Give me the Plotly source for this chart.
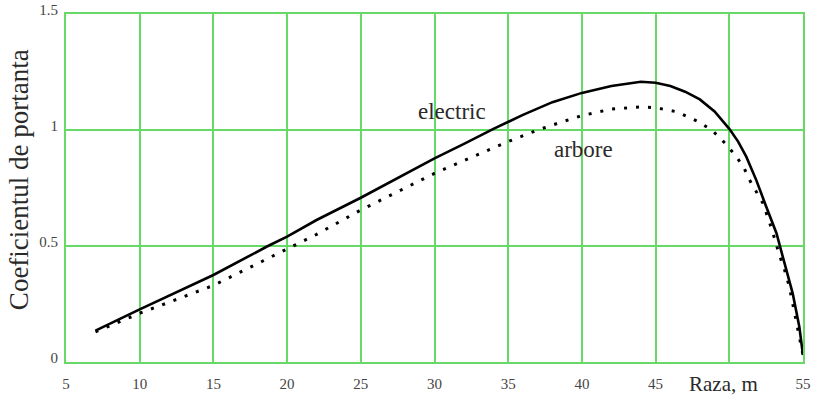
import plotly.graph_objects as go

# electric (solid)
raza_el = [7, 10, 15, 18.7, 20, 22, 25, 30, 32, 34, 36, 38, 40, 42, 44, 45, 46, 47, 48, 49, 50,
           50.6, 51.15, 51.83, 52.5, 53.2, 53.75, 54.3, 54.75, 55]
electric = [0.135, 0.227, 0.375, 0.50, 0.54, 0.612, 0.708, 0.878, 0.94, 1.005, 1.065, 1.12, 1.16, 1.19,
            1.208, 1.204, 1.19, 1.165, 1.132, 1.08, 1.005, 0.95, 0.885, 0.784, 0.67, 0.555, 0.425, 0.296,
            0.152, 0.03]

# arbore (dotted)
raza_ar = [7, 10, 15, 20, 22, 25, 30, 35, 37, 38.5, 40, 42, 44, 45, 46.4, 47.8, 48.7, 49.3, 49.9, 50.47,
           50.97, 51.37, 51.83, 52.28, 52.6, 52.9, 53.4, 53.75, 54.07, 54.4, 54.75, 55]
arbore = [0.13, 0.21, 0.33, 0.487, 0.55, 0.655, 0.813, 0.95, 1.0, 1.032, 1.062, 1.09, 1.10, 1.096, 1.079,
          1.039, 1.004, 0.971, 0.93, 0.885, 0.84, 0.785, 0.734, 0.684, 0.626, 0.569, 0.461, 0.397, 0.325,
          0.224, 0.109, 0.03]

x_ticks = [5, 10, 15, 20, 25, 30, 35, 40, 45, 50, 55]
x_ticktext = ["5", "10", "15", "20", "25", "30", "35", "40", "45", "", "55"]
y_ticks = [0, 0.5, 1, 1.5]
y_ticktext = ["0", "0.5", "1", "1.5"]

grid = "#66d966"
serif = "Liberation Serif, Times New Roman, serif"
txt = "#2a2a2a"

fig = go.Figure()
fig.add_trace(go.Scatter(x=raza_ar, y=arbore, mode="lines",
                         line=dict(color="black", width=3, dash="3px,9px")))
fig.add_trace(go.Scatter(x=raza_el, y=electric, mode="lines",
                         line=dict(color="black", width=2.6)))

fig.add_annotation(x=31.2, y=1.08, text="electric", showarrow=False, font=dict(family=serif, size=23, color=txt))
fig.add_annotation(x=40.1, y=0.914, text="arbore", showarrow=False, font=dict(family=serif, size=23, color=txt))
fig.add_annotation(x=49.58, y=0, yshift=-22, text="Raza, m", showarrow=False,
                   font=dict(family=serif, size=21, color=txt))
fig.add_annotation(xref="paper", yref="paper", x=-0.064, y=0.525, xanchor="center", yanchor="middle",
                   text="Coeficientul de portanta", textangle=-90, showarrow=False,
                   font=dict(family=serif, size=27, color=txt))

fig.update_layout(
    width=817, height=401,
    margin=dict(l=66, r=14, t=14, b=39, autoexpand=False),
    plot_bgcolor="white", paper_bgcolor="white",
    showlegend=False,
    xaxis=dict(range=[5, 55], tickvals=x_ticks, ticktext=x_ticktext, showgrid=True, gridcolor=grid, gridwidth=2,
               showline=True, linecolor=grid, linewidth=2, mirror=True, zeroline=False, automargin=False,
               tickfont=dict(family=serif, size=15, color="#444"), ticks="", ticklabelstandoff=7),
    yaxis=dict(range=[0, 1.5], tickvals=y_ticks, ticktext=y_ticktext, showgrid=True, gridcolor=grid, gridwidth=2,
               showline=True, linecolor=grid, linewidth=2, mirror=True, zeroline=False, automargin=False,
               tickfont=dict(family=serif, size=15, color="#444"), ticks="", ticklabelstandoff=3,
               ticklabelshift=-4),
)

fig.write_html("out.html", config={"displayModeBar": False})

with open("out.html", "r", encoding="utf-8") as f:
    html = f.read()
html = html.replace("<body>", '<body style="margin:0;padding:0;overflow:hidden">', 1)
with open("out.html", "w", encoding="utf-8") as f:
    f.write(html)
